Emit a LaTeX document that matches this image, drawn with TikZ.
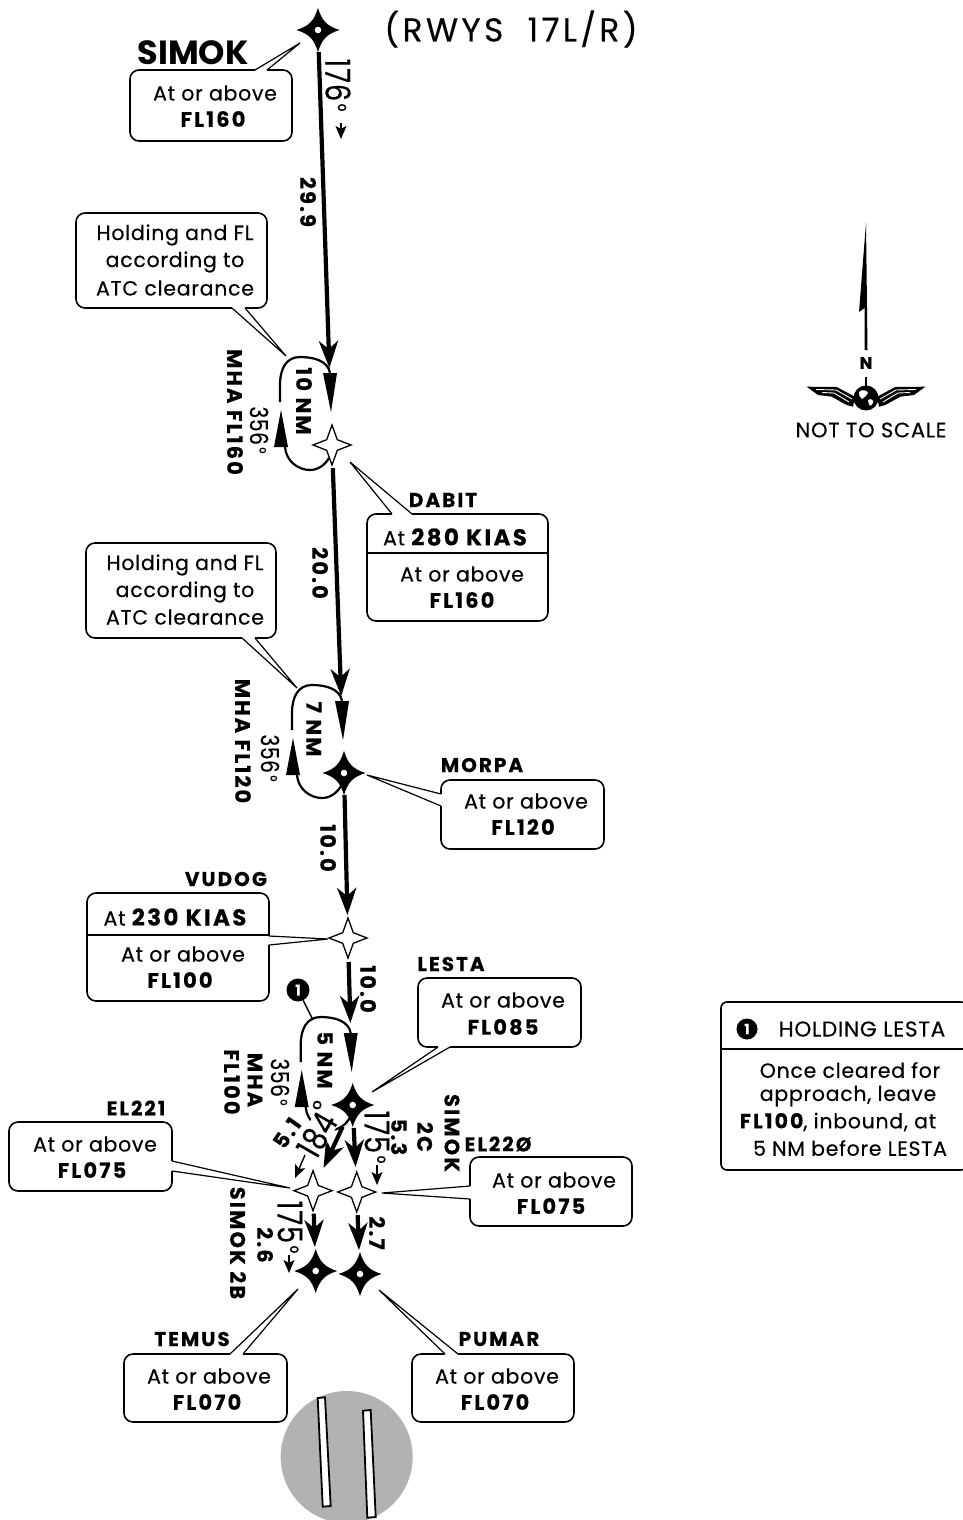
\documentclass[tikz,border=0pt]{standalone}
\usepackage{fontspec}
\usepackage{graphicx}
\setmainfont{Poppins}[LetterSpace=3.5,FakeBold=0.25,BoldFeatures={LetterSpace=10}]
\newfontfamily\titlef{Poppins}[LetterSpace=10,FakeBold=0.25]
\newfontfamily\headf{Poppins Bold}
\usetikzlibrary{arrows.meta}
\newcommand{\nar}[2][.8]{\scalebox{#1}[1]{#2}}
\newcommand{\dgb}{\hspace{3pt}\raisebox{4pt}{\fontsize{24}{24}\selectfont °}}
\newcommand{\dgm}{\hspace{3pt}\raisebox{3pt}{\fontsize{19}{19}\selectfont °}}
\newcommand{\callptr}[3]{\draw[white,line width=2.6pt] (#1)--(#3);\draw[line width=1.2pt,line join=miter] (#1)--(#2)--(#3);}
\newcommand{\kias}[1]{{\fontsize{23}{24}\bfseries\selectfont #1}}
\tikzset{
 txt/.style={inner sep=0pt,font=\fontsize{20.5}{24}\selectfont},
 bld/.style={inner sep=0pt,font=\fontsize{21}{24}\bfseries\selectfont},
 wname/.style={inner sep=0pt,font=\fontsize{20}{24}\bfseries\selectfont},
 bignum/.style={inner sep=0pt,rotate=-90,font=\fontsize{34}{36}\selectfont},
 midnum/.style={inner sep=0pt,rotate=-90,font=\fontsize{25}{28}\selectfont},
 rbld/.style={inner sep=0pt,rotate=-90,font=\fontsize{21}{24}\bfseries\selectfont},
 callbox/.style={draw,line width=1.6pt,rounded corners=9pt,fill=white,inner sep=0pt},
 leg/.style={line width=4.2pt,-{Stealth[length=27pt,width=19pt,inset=8pt]}},
 dirarrow/.style={line width=1.4pt,-{Stealth[length=13pt,width=11pt,inset=3pt]}},
 starf/.pic={\fill (0,-22) .. controls (4,-9) and (9,-4) .. (21.5,0) .. controls (9,4) and (4,9) .. (0,22) .. controls (-4,9) and (-9,4) .. (-21.5,0) .. controls (-9,-4) and (-4,-9) .. cycle; \fill[white] (0,0) circle (3.3);},
 staro/.pic={\filldraw[fill=white,line width=1.3pt,line join=miter] (0,-20) -- (5.3,-5.3) -- (19,0) -- (5.3,5.3) -- (0,20) -- (-5.3,5.3) -- (-19,0) -- (-5.3,-5.3) -- cycle;},
 holdpat/.pic={
  \draw[line width=2.2pt] (-2,-72) .. controls (-4,-84) and (-18,-88) .. (-32,-88) .. controls (-46,-88) and (-52,-76) .. (-52,-60) -- (-52,-43);
  \draw[line width=2.2pt] (-47,2) .. controls (-46,16) and (-34,25) .. (-22,25) .. controls (-14,25) and (-7,20) .. (-3,13);
  \fill (-9,-72) -- (5,-72) -- (-1,-33) -- cycle;
  \fill (-58,2) -- (-44,2) -- (-51,-35) -- cycle;
 },
}
\begin{document}
\begin{tikzpicture}[x=1pt,y=-1pt]
\useasboundingbox (0,0) rectangle (962,1520);
% airport
\fill[black!30] (346.7,1457) circle (66);
\filldraw[fill=white,line width=1.8pt] (317.7,1398)--(325,1397.3)--(330.7,1506)--(322.7,1506.7)--cycle;
\filldraw[fill=white,line width=1.8pt] (363,1410.7)--(370.7,1410)--(375.7,1517)--(367.3,1517.7)--cycle;
% waypoints
\coordinate (simok) at (318,30);
\coordinate (dabit) at (332,445);
\coordinate (morpa) at (344,773);
\coordinate (vudog) at (348,938);
\coordinate (lesta) at (352.7,1105);
\coordinate (elb) at (313,1190.7);
\coordinate (elc) at (356.7,1192);
\coordinate (temus) at (315.7,1271);
\coordinate (pumar) at (360,1274);
% holds
\pic at (dabit) {holdpat};
\pic at (morpa) {holdpat};
\pic at (lesta) {holdpat};
% legs
\draw[leg,shorten <=22pt,shorten >=77pt] (simok)--(dabit);
\draw[leg,shorten <=23pt,shorten >=77pt] (dabit)--(morpa);
\draw[leg,shorten <=22pt,shorten >=23pt] (morpa)--(vudog);
\draw[leg,shorten <=24pt,shorten >=82pt] (vudog)--(lesta);
\draw[leg,shorten <=24pt,shorten >=25pt] (lesta)--(elb);
\draw[leg,shorten <=23pt,shorten >=25pt] (lesta)--(elc);
\draw[leg,shorten <=23pt,shorten >=24pt] (elb)--(temus);
\draw[leg,shorten <=23pt,shorten >=24pt] (elc)--(pumar);
% stars
\pic at (simok) {starf};
\pic at (morpa) {starf};
\pic at (lesta) {starf};
\pic at (temus) {starf};
\pic at (pumar) {starf};
\pic at (dabit) {staro};
\pic at (vudog) {staro};
\pic at (elb) {staro};
\pic at (elc) {staro};
% title
\node[inner sep=0pt,font=\titlef\fontsize{33}{36}\selectfont] (title) at (511,29) {(RWYS\ \ 17L/R)};
% SIMOK
\node[inner sep=0pt,font=\headf\fontsize{33.5}{36}\selectfont] (lsimok) at (193,53) {SIMOK};
\node[callbox,minimum width=162pt,minimum height=71pt] (bsimok) at (211,105.5) {};
\callptr{255,70}{300,43}{267,70}
\node[txt] (t1a) at (215,93) {At or above};
\node[bld] (t1b) at (213,119) {FL160};
% Hold box 1
\node[callbox,minimum width=191pt,minimum height=95pt] (bh1) at (171.5,260.5) {};
\callptr{232,308}{286,356}{245,308}
\node[txt] (h1a) at (175,235) {Holding and FL};
\node[txt] (h1b) at (175,262) {according to};
\node[txt] (h1c) at (175,288) {ATC clearance};
% DABIT
\node[wname] (ldabit) at (443,500) {DABIT};
\node[callbox,minimum width=181pt,minimum height=107pt] (bdabit) at (457.5,567.5) {};
\draw[line width=1.4pt] (bdabit.west |- 0,553) -- (bdabit.east |- 0,553);
\callptr{392,514}{350,462}{412,514}
\node[txt] (d1) at (455,537) {At \kias{280 KIAS}};
\node[txt] (d2) at (462,574) {At or above};
\node[bld] (d3) at (462,600) {FL160};
% Hold box 2
\node[callbox,minimum width=190pt,minimum height=95pt] (bh2) at (181,590.5) {};
\callptr{242,638}{297,688}{255,638}
\node[txt] (h2a) at (185,565) {Holding and FL};
\node[txt] (h2b) at (185,592) {according to};
\node[txt] (h2c) at (185,617) {ATC clearance};
% MORPA
\node[wname] (lmorpa) at (482,765) {MORPA};
\node[callbox,minimum width=163pt,minimum height=69pt] (bmorpa) at (522.5,814.5) {};
\callptr{441,794}{367,775}{441,806}
\node[txt] (m1) at (526,801) {At or above};
\node[bld] (m2) at (523,827) {FL120};
% VUDOG
\node[wname] (lvudog) at (226,879) {VUDOG};
\node[callbox,minimum width=182pt,minimum height=108pt] (bvudog) at (178,947) {};
\draw[line width=1.4pt] (bvudog.west |- 0,935) -- (bvudog.east |- 0,935);
\callptr{269,936}{328,939}{269,945}
\node[txt] (v1) at (175,917) {At \kias{230 KIAS}};
\node[txt] (v2) at (183,954) {At or above};
\node[bld] (v3) at (180,980) {FL100};
% LESTA
\node[wname] (llesta) at (451,964) {LESTA};
\node[callbox,minimum width=163pt,minimum height=69pt] (blesta) at (499.5,1012.5) {};
\callptr{438,1047}{372,1092}{450,1047}
\node[txt] (l1) at (503,1000) {At or above};
\node[bld] (l2) at (503,1027) {FL085};
% EL221
\node[wname] (lelb) at (136,1108) {EL221};
\node[callbox,minimum width=163pt,minimum height=69pt] (belb) at (90.5,1156.5) {};
\callptr{172,1161}{290,1188}{172,1171}
\node[txt] (e1) at (95,1144) {At or above};
\node[bld] (e2) at (92,1170) {FL075};
% EL220
\node[wname] (lelc) at (498,1144) {EL22Ø};
\node[callbox,minimum width=162pt,minimum height=69pt] (belc) at (551,1191.5) {};
\callptr{470,1186}{382,1193}{470,1199}
\node[txt] (c1) at (554,1180) {At or above};
\node[bld] (c2) at (551,1206) {FL075};
% TEMUS
\node[wname] (ltemus) at (192,1339) {TEMUS};
\node[callbox,minimum width=163pt,minimum height=68pt] (btemus) at (205.5,1388) {};
\callptr{230,1354}{298,1289}{243,1354}
\node[txt] (te1) at (209,1376) {At or above};
\node[bld] (te2) at (207,1402) {FL070};
% PUMAR
\node[wname] (lpumar) at (499,1339) {PUMAR};
\node[callbox,minimum width=162pt,minimum height=68pt] (bpumar) at (493,1388) {};
\callptr{445,1354}{379,1290}{458,1354}
\node[txt] (pu1) at (497,1376) {At or above};
\node[bld] (pu2) at (495,1402) {FL070};
% leg labels
\node[bignum] (n176) at (338,85) {\nar{176\dgb}};
\coordinate (a1s) at (341,123); \coordinate (a1e) at (341,139);
\draw[dirarrow] (a1s)--(a1e);
\node[rbld] (d299) at (308,202) {29.9};
\node[rbld] (d200) at (320,573) {20.0};
\node[rbld] (d100a) at (328,848) {10.0};
\node[rbld] (d100b) at (368,989) {10.0};
\node[rbld] (h10) at (304,401) {10 NM};
\node[rbld] (h7) at (314,729) {7 NM};
\node[rbld] (h5) at (325,1060) {5 NM};
\node[rbld] (mha1) at (235,412) {MHA FL160};
\node[rbld] (mha2) at (243,741) {MHA FL120};
\node[rbld] (mha3) at (255,1080) {MHA};
\node[rbld] (fl3) at (232,1082) {FL100};
\node[midnum] (c356a) at (259,430) {\nar{356\dgm}};
\node[midnum] (c356b) at (270,758) {\nar{356\dgm}};
\node[midnum] (c356c) at (280,1082) {\nar{356\dgm}};
% 184
\node[inner sep=0pt,fill=white,rotate=60,font=\fontsize{34}{36}\selectfont] (n184) at (317,1135) {\nar{184}};
\node[bignum,font=\fontsize{24}{24}\selectfont] (n184d) at (313,1105) {°};
\node[inner sep=0pt,rotate=55,font=\fontsize{21}{24}\bfseries\selectfont] (d51) at (287,1133) {5.1};
\coordinate (a2s) at (305,1155); \coordinate (a2e) at (295,1178);
\draw[dirarrow] (a2s)--(a2e);
% 175 right
\node[bignum] (n175a) at (377,1137) {\nar{175\dgb}};
\coordinate (a3s) at (377,1165); \coordinate (a3e) at (377,1185);
\draw[dirarrow] (a3s)--(a3e);
\node[rbld] (d53) at (399,1137) {5.3};
\node[rbld] (c2c) at (425,1137) {2C};
\node[rbld] (csim) at (452,1133) {SIMOK};
% 175 left
\node[bignum] (n175b) at (290,1227) {\nar{175\dgb}};
\coordinate (a4s) at (289,1255); \coordinate (a4e) at (289,1273);
\draw[dirarrow] (a4s)--(a4e);
\node[rbld] (d26) at (265,1245) {2.6};
\node[rbld] (b2b) at (238,1243) {SIMOK 2B};
\node[rbld] (d27) at (377,1233) {2.7};
% note marker
\node[circle,fill=black,text=white,inner sep=0pt,minimum size=23pt,font=\fontsize{15}{16}\bfseries\selectfont] (note) at (298,990) {1};
\coordinate (notee) at (313,1020);
\draw[line width=1.4pt] (note)--(notee);
% north
\fill (866,223) -- (859,312) -- (864.5,308) -- (864.5,350) -- (867.5,350) -- cycle;
\node[inner sep=0pt,font=\fontsize{17}{18}\bfseries\selectfont] (north) at (866,363) {N};
\coordinate (ns) at (866,377); \coordinate (globe) at (866,398);
\draw[line width=2.6pt] (ns)--(globe);
\foreach \sx in {1,-1}{
 \begin{scope}[shift={(866,0)},xscale=\sx]
  \fill (-59.3,386.7) -- (-29.3,387) -- (-11,396.7) -- (-13,406.7) -- (-19.3,405) -- (-34.3,396.7) -- (-48,395) -- cycle;
  \draw[white,line width=.9pt] (-50,389.5) -- (-30,390) -- (-14,399);
  \draw[white,line width=.9pt] (-44,392.5) -- (-32,393) -- (-17,402);
 \end{scope}}
\fill (globe) circle (12.5);
\fill[white] (859,392) .. controls (862,389) and (867,390) .. (868,393) .. controls (866,396) and (864,398) .. (862,399) .. controls (860,397) and (858,395) .. (859,392) -- cycle;
\fill[white] (868,400) .. controls (871,398) and (874,400) .. (873,403) .. controls (872,405) and (870,407) .. (869,405) -- cycle;
\node[inner sep=0pt,font=\fontsize{21}{22}\selectfont] (nts) at (871,430) {NOT TO SCALE};
% legend
\node[callbox,rounded corners=6pt,minimum width=246pt,minimum height=168pt] (legend) at (844,1086) {};
\draw[line width=1.4pt] (legend.west |- 0,1049) -- (legend.east |- 0,1049);
\node[circle,fill=black,text=white,inner sep=0pt,minimum size=21pt,font=\fontsize{14}{15}\bfseries\selectfont] (legnote) at (747,1029) {1};
\node[inner sep=0pt,font=\fontsize{21.5}{22}\selectfont] (lg0) at (862,1029) {HOLDING LESTA};
\node[txt] (lg1) at (850,1070) {Once cleared for};
\node[txt] (lg2) at (848,1096) {approach, leave};
\node[txt] (lg3) at (838,1122) {\textbf{FL100}, inbound, at};
\node[txt] (lg4) at (850,1148) {5 NM before LESTA};
\end{tikzpicture}
\end{document}
